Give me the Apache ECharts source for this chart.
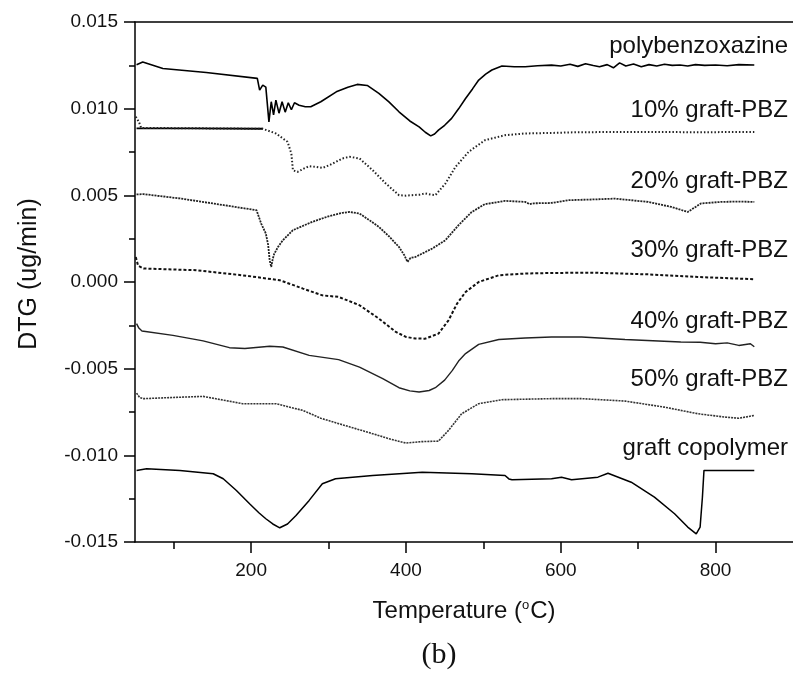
<!DOCTYPE html>
<html>
<head>
<meta charset="utf-8">
<script src="https://cdn.jsdelivr.net/npm/echarts@6/dist/echarts.min.js"></script>
<style>
  html, body { margin: 0; padding: 0; background: #fff; }
  #chart { width: 793px; height: 673px; }
</style>
</head>
<body>
<div id="chart"></div>
<script>
// DTG curves, temperature in degC, DTG in ug/min
var pbzT = [52, 60, 86, 142, 208, 210, 211, 215, 219, 221, 223, 226, 229, 232, 236, 240, 244, 248, 252, 256, 262, 270, 277, 290, 310, 325, 337, 350, 365, 378, 391, 405, 417, 425, 432, 437, 442, 450, 459, 468, 477, 486, 494, 503, 511, 524, 540, 554, 570, 588, 600, 612, 622, 632, 642, 650, 660, 668, 676, 684, 694, 704, 714, 724, 734, 744, 754, 764, 774, 786, 800, 815, 830, 850];
var pbzV = [0.01254, 0.01269, 0.01232, 0.01209, 0.01175, 0.01164, 0.01107, 0.01136, 0.01124, 0.01114, 0.00924, 0.01040, 0.00964, 0.01049, 0.00974, 0.01040, 0.00980, 0.01034, 0.00994, 0.01034, 0.01020, 0.01011, 0.01011, 0.01040, 0.01097, 0.01124, 0.01140, 0.01134, 0.01088, 0.01039, 0.00982, 0.00929, 0.00895, 0.00864, 0.00843, 0.00854, 0.00876, 0.00904, 0.00944, 0.00999, 0.01059, 0.01114, 0.01165, 0.01199, 0.01223, 0.01246, 0.01242, 0.01242, 0.01248, 0.01251, 0.01246, 0.01256, 0.01244, 0.01259, 0.01249, 0.01242, 0.01254, 0.01236, 0.01264, 0.01246, 0.01258, 0.01242, 0.01254, 0.01246, 0.01256, 0.01250, 0.01252, 0.01246, 0.01254, 0.01250, 0.01252, 0.01248, 0.01254, 0.01252];

var g10FlatT = [52, 120, 215];
var g10FlatV = [0.00886, 0.00886, 0.00884];
var g10T = [51, 55, 58, 215, 232, 247, 252, 254, 260, 268, 275, 284, 292, 301, 310, 318, 327, 340, 357, 374, 391, 400, 408, 418, 425, 432, 438, 451, 464, 481, 502, 528, 554, 588, 620, 700, 780, 850];
var g10V = [0.00954, 0.00924, 0.00889, 0.00884, 0.00857, 0.00809, 0.00741, 0.00645, 0.00635, 0.00654, 0.00668, 0.00664, 0.00658, 0.00674, 0.00694, 0.00713, 0.00722, 0.00713, 0.00645, 0.00568, 0.00501, 0.00498, 0.00501, 0.00504, 0.00511, 0.00504, 0.00501, 0.00568, 0.00664, 0.00751, 0.00818, 0.00847, 0.00857, 0.00860, 0.00864, 0.00866, 0.00864, 0.00866];

var g20T = [52, 61, 108, 151, 207, 213, 219, 222, 224, 226, 228, 230, 235, 241, 254, 279, 300, 318, 327, 340, 352, 365, 378, 391, 398, 402, 406, 412, 434, 451, 468, 485, 502, 528, 554, 560, 565, 588, 610, 640, 670, 713, 743, 764, 781, 807, 830, 850];
var g20V = [0.00505, 0.00507, 0.00482, 0.00453, 0.00414, 0.00337, 0.00280, 0.00214, 0.00124, 0.00087, 0.00134, 0.00164, 0.00204, 0.00241, 0.00299, 0.00347, 0.00379, 0.00399, 0.00404, 0.00395, 0.00359, 0.00318, 0.00264, 0.00202, 0.00154, 0.00116, 0.00139, 0.00144, 0.00193, 0.00241, 0.00328, 0.00404, 0.00449, 0.00468, 0.00462, 0.00449, 0.00454, 0.00456, 0.00472, 0.00476, 0.00481, 0.00462, 0.00433, 0.00404, 0.00453, 0.00462, 0.00464, 0.00462];

var g30T = [51, 54, 61, 129, 194, 237, 267, 292, 313, 340, 365, 387, 400, 412, 425, 442, 455, 466, 477, 494, 520, 554, 588, 640, 713, 777, 850];
var g30V = [0.00144, 0.00094, 0.00078, 0.00068, 0.00036, 0.00010, -0.00038, -0.00077, -0.00086, -0.00134, -0.00211, -0.00288, -0.00317, -0.00326, -0.00327, -0.00298, -0.00221, -0.00125, -0.00058, 0.00000, 0.00039, 0.00049, 0.00052, 0.00054, 0.00044, 0.00029, 0.00016];

var g40T = [52, 55, 59, 99, 138, 172, 192, 224, 241, 275, 313, 340, 370, 391, 405, 417, 430, 438, 450, 460, 468, 477, 494, 520, 554, 588, 627, 683, 755, 780, 800, 815, 830, 845, 850];
var g40V = [-0.00240, -0.00266, -0.00283, -0.00308, -0.00340, -0.00379, -0.00384, -0.00371, -0.00375, -0.00423, -0.00448, -0.00491, -0.00558, -0.00610, -0.00628, -0.00635, -0.00626, -0.00610, -0.00566, -0.00510, -0.00456, -0.00413, -0.00360, -0.00332, -0.00323, -0.00317, -0.00317, -0.00332, -0.00346, -0.00348, -0.00356, -0.00351, -0.00366, -0.00356, -0.00374];

var g50T = [52, 56, 61, 100, 138, 189, 232, 267, 290, 313, 335, 357, 378, 400, 420, 442, 455, 472, 494, 524, 588, 627, 683, 734, 777, 811, 830, 850];
var g50V = [-0.00641, -0.00666, -0.00673, -0.00666, -0.00660, -0.00702, -0.00702, -0.00741, -0.00786, -0.00817, -0.00846, -0.00875, -0.00904, -0.00929, -0.00921, -0.00918, -0.00856, -0.00760, -0.00702, -0.00679, -0.00673, -0.00673, -0.00687, -0.00722, -0.00760, -0.00779, -0.00786, -0.00770];

var copT = [52, 65, 108, 151, 164, 181, 198, 210, 219, 228, 237, 247, 258, 275, 292, 309, 357, 421, 485, 528, 533, 537, 588, 601, 614, 648, 661, 691, 721, 747, 764, 775, 780, 783, 785, 850];
var copV = [-0.01087, -0.01077, -0.01087, -0.01106, -0.01135, -0.01203, -0.01279, -0.01331, -0.01366, -0.01396, -0.01418, -0.01396, -0.01347, -0.01260, -0.01164, -0.01135, -0.01116, -0.01097, -0.01106, -0.01116, -0.01136, -0.01141, -0.01135, -0.01126, -0.01141, -0.01126, -0.01103, -0.01155, -0.01241, -0.01337, -0.01414, -0.01453, -0.01414, -0.01240, -0.01087, -0.01087];

var curveNames = ['polybenzoxazine', '10% graft-PBZ', '20% graft-PBZ', '30% graft-PBZ', '40% graft-PBZ', '50% graft-PBZ', 'graft copolymer'];
var labelY = [46, 110, 181, 250, 321, 379, 448];

var majorTicks = [200, 400, 600, 800];
var minorTicks = [100, 300, 500, 700];
var yMin = -0.015, yMax = 0.015, yStep = 0.005;

function pairs(t, v) {
  var out = [];
  for (var i = 0; i < t.length; i++) out.push([t[i], v[i]]);
  return out;
}

function line(name, t, v, width, type, color) {
  return {
    name: name,
    type: 'line',
    data: pairs(t, v),
    showSymbol: false,
    silent: true,
    lineStyle: { color: color, width: width, type: type }
  };
}

var font = '"Liberation Sans", Arial, sans-serif';
var axisPen = { color: '#000', width: 1.5 };

var chart = echarts.init(document.getElementById('chart'));

var labels = curveNames.map(function (n, i) {
  return {
    type: 'text', x: 788, y: labelY[i],
    style: { text: n, fill: '#111', fontSize: 24, fontFamily: font, align: 'right', verticalAlign: 'middle' }
  };
});
labels.push({
  type: 'text', x: 439, y: 655,
  style: { text: '(b)', fill: '#111', fontSize: 30, fontFamily: '"Liberation Serif", "Times New Roman", serif', align: 'center', verticalAlign: 'middle' }
});

var option = {
  animation: false,
  backgroundColor: '#fff',
  grid: { left: 135, top: 22, width: 661, height: 520 },
  xAxis: [{
    type: 'value', min: 50, max: 900,
    name: 'Temperature ({sup|o}C)', nameLocation: 'middle', nameGap: 57,
    nameTextStyle: { fontSize: 24, fontFamily: font, color: '#111',
      rich: { sup: { fontSize: 13, fontFamily: font, color: '#111', verticalAlign: 'top', padding: [0, 1, 0, 0] } } },
    axisLine: { show: true, onZero: false, lineStyle: axisPen },
    axisTick: { show: true, length: 11, customValues: majorTicks, lineStyle: axisPen },
    axisLabel: { customValues: majorTicks, fontSize: 19, fontFamily: font, color: '#111', margin: 19 },
    splitLine: { show: false }
  }, {
    // minor ticks between the labelled ones
    type: 'value', min: 50, max: 900, position: 'bottom',
    axisLine: { show: false, onZero: false },
    axisTick: { show: true, length: 7, customValues: minorTicks, lineStyle: axisPen },
    axisLabel: { show: false },
    splitLine: { show: false }
  }, {
    // top frame line
    type: 'value', min: 50, max: 900, position: 'top',
    axisLine: { show: true, onZero: false, lineStyle: axisPen },
    axisTick: { show: false },
    axisLabel: { show: false },
    splitLine: { show: false }
  }],
  yAxis: {
    type: 'value', min: yMin, max: yMax, interval: yStep,
    name: 'DTG (ug/min)', nameLocation: 'middle', nameGap: 93,
    nameTextStyle: { fontSize: 25, fontFamily: font, color: '#111', padding: [0, 0, 0, 16] },
    axisLine: { show: true, onZero: false, lineStyle: axisPen },
    axisTick: { show: true, length: 11, lineStyle: axisPen },
    minorTick: { show: true, splitNumber: 2, length: 6, lineStyle: axisPen },
    axisLabel: { fontSize: 19, fontFamily: font, color: '#111', margin: 17,
      formatter: function (v) { return v.toFixed(3); } },
    splitLine: { show: false }
  },
  graphic: labels,
  series: [
    line(curveNames[0], pbzT, pbzV, 1.6, 'solid', '#000'),
    line(curveNames[1], g10FlatT, g10FlatV, 1.8, 'solid', '#000'),
    line(curveNames[1], g10T, g10V, 2, [1.5, 2], '#222'),
    line(curveNames[2], g20T, g20V, 1.8, [2, 1], '#222'),
    line(curveNames[3], g30T, g30V, 2, [3, 2], '#111'),
    line(curveNames[4], g40T, g40V, 1.4, 'solid', '#222'),
    line(curveNames[5], g50T, g50V, 1.6, [2, 1], '#333'),
    line(curveNames[6], copT, copV, 1.5, 'solid', '#000')
  ]
};

chart.setOption(option);
</script>
</body>
</html>
